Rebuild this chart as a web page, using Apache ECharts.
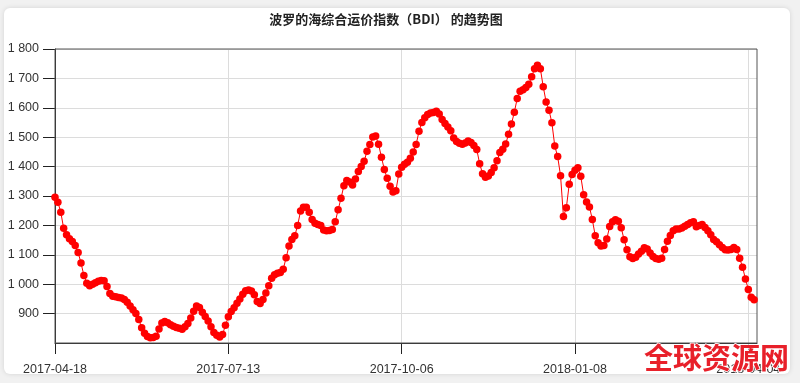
<!DOCTYPE html>
<html>
<head>
<meta charset="utf-8">
<script src="https://cdn.jsdelivr.net/npm/echarts@6/dist/echarts.min.js"></script>
<style>
html,body{margin:0;padding:0;background:#f1f1f1;}
#chart{width:800px;height:383px;}
</style>
</head>
<body>
<div id="chart"></div>
<script>
const titleText = '波罗的海综合运价指数（BDI） 的趋势图';
const watermarkText = '全球资源网';
const tickIndex = [0, 60, 120, 180, 240];
const tickLabels = ['2017-04-18', '2017-07-13', '2017-10-06', '2018-01-08', '2018-04-04'];
const yTicks = [900, 1000, 1100, 1200, 1300, 1400, 1500, 1600, 1700, 1800];
const bdiValues = [
  1296,1279,1245,1190,1168,1155,1145,1132,1108,1072,
  1030,1003,995,1000,1005,1010,1013,1012,992,968,
  959,957,955,953,948,939,926,913,900,880,
  852,833,822,818,819,823,848,868,873,869,
  862,857,853,850,847,855,866,885,908,926,
  921,905,890,875,855,836,826,820,829,860,
  889,907,920,935,950,966,978,980,977,964,
  941,934,948,970,995,1020,1032,1037,1040,1051,
  1090,1130,1152,1165,1200,1249,1262,1262,1245,1220,
  1207,1203,1200,1184,1182,1183,1186,1212,1253,1292,
  1335,1353,1348,1337,1358,1383,1400,1418,1452,1475,
  1501,1504,1476,1432,1390,1360,1333,1314,1318,1375,
  1398,1408,1415,1428,1450,1475,1520,1550,1566,1577,
  1582,1584,1588,1579,1560,1547,1535,1522,1497,1485,
  1479,1476,1480,1487,1482,1472,1458,1410,1376,1364,
  1368,1380,1396,1420,1448,1459,1477,1510,1545,1585,
  1632,1656,1661,1669,1680,1706,1733,1745,1733,1672,
  1620,1592,1549,1470,1434,1369,1230,1260,1340,1373,
  1388,1396,1367,1304,1280,1263,1220,1165,1141,1130,
  1132,1154,1196,1212,1219,1214,1192,1151,1117,1093,
  1087,1092,1103,1112,1124,1120,1106,1094,1087,1085,
  1088,1118,1146,1166,1182,1188,1188,1191,1197,1203,
  1209,1212,1195,1200,1203,1193,1182,1168,1152,1144,
  1134,1125,1117,1116,1118,1125,1118,1088,1058,1018,
  982,956,947
];

const chart = echarts.init(document.getElementById('chart'), null, {renderer: 'canvas'});
const fmtY = v => String(v).replace(/\B(?=(\d{3})+(?!\d))/g, ' ');

chart.setOption({
  backgroundColor: '#f1f1f1',
  animation: false,
  grid: {left: 55, top: 49, right: 43, bottom: 40, show: true, borderColor: '#555', borderWidth: 1, z: 1},
  graphic: [
    {type: 'rect', z: -10, shape: {x: 4, y: 8, width: 786, height: 366, r: 6},
     style: {fill: '#ffffff', shadowBlur: 5, shadowColor: 'rgba(0,0,0,0.12)'}},
    {type: 'text', z: 10, x: 386, y: 19,
     style: {text: titleText, fill: '#222', font: 'bold 13px "Noto Sans CJK SC", sans-serif', align: 'center', verticalAlign: 'middle'}},
    {type: 'text', z: 100, x: 644, y: 358,
     style: {text: watermarkText, fill: '#e8202a', stroke: '#ffffff', lineWidth: 1.5, font: 'bold 29px "Noto Sans CJK SC", sans-serif', align: 'left', verticalAlign: 'middle'}}
  ],
  xAxis: {
    type: 'value', min: 0, max: 243,
    axisLine: {show: true, lineStyle: {color: '#222', width: 1}},
    axisTick: {show: true, inside: false, length: 11, lineStyle: {color: '#222'}, customValues: tickIndex},
    axisLabel: {customValues: tickIndex, margin: 20, color: '#333', fontSize: 12.5, fontFamily: 'Liberation Sans',
      formatter: v => { const k = tickIndex.indexOf(v); return k >= 0 ? tickLabels[k] : ''; }},
    splitLine: {show: true, lineStyle: {color: '#dcdcdc', width: 1}}
  },
  yAxis: {
    type: 'value', min: 800, max: 1800, interval: 100,
    axisLine: {show: true, lineStyle: {color: '#222', width: 1}},
    axisTick: {show: true, inside: false, length: 12, lineStyle: {color: '#222'}, customValues: yTicks},
    axisLabel: {customValues: yTicks, margin: 16, color: '#333', fontSize: 12.5, fontFamily: 'Liberation Sans', formatter: fmtY},
    splitLine: {show: true, lineStyle: {color: '#dcdcdc', width: 1}}
  },
  series: [{
    type: 'line',
    data: bdiValues.map((v, i) => [i, v]),
    symbol: 'circle',
    symbolSize: 7.5,
    showAllSymbol: true,
    itemStyle: {color: '#ff0000'},
    lineStyle: {color: '#ff0000', width: 1},
    z: 5
  }]
});
</script>
</body>
</html>
